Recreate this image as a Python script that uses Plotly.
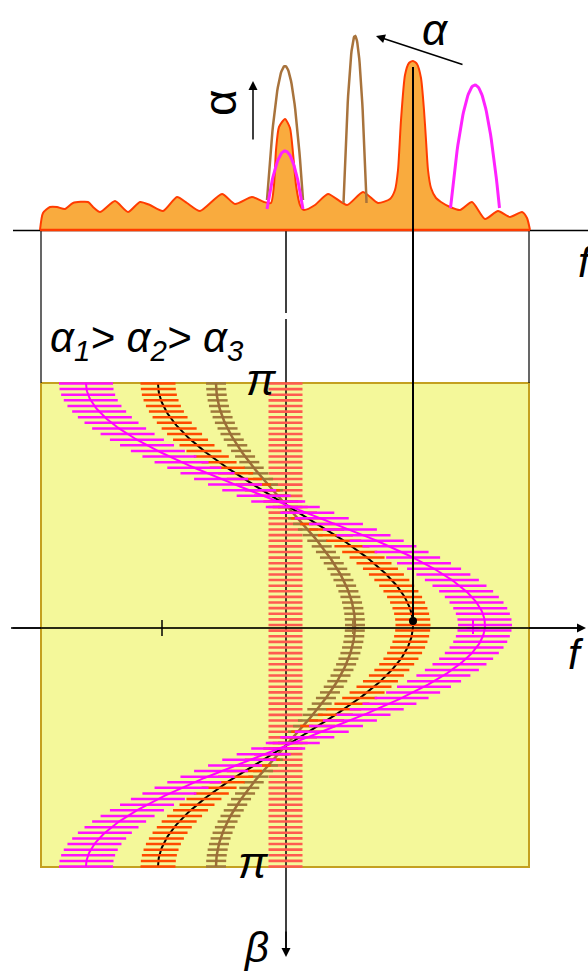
import numpy as np
import plotly.graph_objects as go

W, H = 588, 971

# ---- layout constants (drawing units = screen units) ----
BASE_Y = 230          # baseline of the spectrum strip
AXIS_Y = 628          # f axis of the beta panel
PANEL_X = [41, 529]
PANEL_Y = [383, 867]
F0 = 285.5            # common crossing frequency
BETA_MID_Y = 625      # beta = 0
BETA_HALF = 241.5     # distance from beta = 0 to beta = +-pi

# ---- spectrum (frequency, level above baseline) ----
spec_f = [40, 43, 50, 57, 65, 73, 88, 93, 100, 115, 128, 140, 150, 163, 177, 187, 200,
          222, 235, 252, 264, 271, 274, 276, 279, 285, 290, 293, 296, 300, 304,
          315, 328, 347, 363, 378, 390, 395, 398, 401, 405, 409, 413, 417, 421, 424,
          426, 428, 431, 436, 441, 450, 460, 472, 485, 498, 510, 522, 527, 530]
spec_a = [0, 17, 23, 23, 21, 27, 28, 23, 18, 29, 18, 28, 25, 19, 33, 27, 19,
          36, 26, 33, 28, 27, 45, 80, 103, 111, 102, 77, 45, 25, 20,
          25, 36, 25, 38, 27, 31, 40, 60, 110, 155, 167, 169, 166, 152, 120,
          90, 60, 42, 32, 28, 23, 20, 28, 11, 19, 13, 18, 12, 0]

# ---- single-parameter peaks drawn over the spectrum ----
peak_f = [285, 355, 285, 475]
peak_top = [164, 194, 79, 145]       # height of peak above baseline
peak_foot = [30, 27, 21, 22]         # height where the arch ends
peak_half = [18, 11.5, 18, 24.5]     # half width at the foot
peak_color = ["#A8733C", "#A8733C", "#FF22FF", "#FF22FF"]
peak_width = [2.5, 2.5, 3, 3]

# ---- f(beta) curves ----
curve_amp = [199.5, 127.5, 69.5]          # alpha1, alpha2, alpha3
curve_bar = [54, 35, 20]
curve_bar_color = ["#FF10FF", "#FF4A00", "#A07A3C"]
curve_line_color = ["#FF00FF", "#000000", "#9C6E38"]
curve_line_width = [2, 2, 2.5]
column_bar = 34
n_bars = 87

axis_ticks = [162]
cross_f = [353, 473]
cross_color = ["#A07A3C", "#FF00FF"]
dot_f = 413

fig = go.Figure()


def line(xs, ys, color="#000", width=1.5, **kw):
    fig.add_trace(go.Scatter(x=xs, y=ys, mode="lines", hoverinfo="skip",
                             line=dict(color=color, width=width), **kw))


def beta_y(beta):
    return BETA_MID_Y + beta / np.pi * BETA_HALF


# spectrum baseline axis
line([13, 588], [BASE_Y + 0.5, BASE_Y + 0.5], width=1.5)

# beta panel
fig.add_trace(go.Scatter(
    x=[PANEL_X[0], PANEL_X[1], PANEL_X[1], PANEL_X[0], PANEL_X[0]],
    y=[PANEL_Y[0], PANEL_Y[0], PANEL_Y[1], PANEL_Y[1], PANEL_Y[0]],
    mode="lines", fill="toself", fillcolor="#F4F89A",
    line=dict(color="#C4A020", width=2), hoverinfo="skip"))

# f axis: black outside the panel, seen through the tint inside it
line([11, PANEL_X[0], None, PANEL_X[1], 578], [AXIS_Y, AXIS_Y, None, AXIS_Y, AXIS_Y],
     width=1.5)
line([PANEL_X[0] + 1, PANEL_X[1] - 1], [AXIS_Y, AXIS_Y], color="#8E8E3A", width=1.5)

# connector lines between strip and panel
line([PANEL_X[0], PANEL_X[0]], [BASE_Y, PANEL_Y[0]], width=1.2)
line([PANEL_X[1], PANEL_X[1]], [BASE_Y, PANEL_Y[0]], width=1.2)
line([286, 286, None, 286, 286], [163, 313, None, 319, 950], width=1.5)

# spectrum fill
line([spec_f[0], spec_f[-1]], [BASE_Y, BASE_Y], width=0)
fig.add_trace(go.Scatter(
    x=spec_f, y=[BASE_Y - a for a in spec_a], mode="lines",
    line=dict(color="#FF3C00", width=2, shape="spline", smoothing=0.6),
    fill="tonexty", fillcolor="#F9AB3E", hoverinfo="skip"))
line([spec_f[0], spec_f[-1]], [BASE_Y, BASE_Y], color="#FF3C00", width=2.5)

# peaks
for c, top, foot, hw, col, lw in zip(peak_f, peak_top, peak_foot, peak_half,
                                      peak_color, peak_width):
    u = np.linspace(-1, 1, 61)
    xs = c + u * hw
    ys = BASE_Y - (top - (top - foot) * u ** 2)
    line(xs, ys, color=col, width=lw)

# bars of the common column
beta_b = np.linspace(-np.pi, np.pi, n_bars)
bx, by = [], []
for b in beta_b:
    yb = beta_y(b)
    bx += [F0 - column_bar / 2, F0 + column_bar / 2, None]
    by += [yb, yb, None]
line(bx, by, color="#FF5A50", width=2.6)

# f(beta) curves with their bars, drawn from alpha3 up to alpha1
beta_l = np.linspace(-np.pi, np.pi, 301)
for i in [2, 1, 0]:
    amp = curve_amp[i]
    half = curve_bar[i] / 2
    bx, by = [], []
    for b in beta_b:
        xc = F0 + amp * np.cos(b)
        yb = beta_y(b)
        bx += [xc - half, xc + half, None]
        by += [yb, yb, None]
    cx = F0 + amp * np.cos(beta_l)
    cy = beta_y(beta_l)
    if i == 1:
        line(cx, cy, color=curve_line_color[i], width=curve_line_width[i])
        line(bx, by, color=curve_bar_color[i], width=2.5)
    else:
        line(bx, by, color=curve_bar_color[i], width=2.5)
        line(cx, cy, color=curve_line_color[i], width=curve_line_width[i])

# ticks and crosses on the f axis
for t in axis_ticks:
    line([t, t], [AXIS_Y - 8, AXIS_Y + 8], width=1.5)
for t, col in zip(cross_f, cross_color):
    line([t, t, None, t - 6, t + 6], [AXIS_Y - 8, AXIS_Y + 6, None, AXIS_Y, AXIS_Y],
         color=col, width=2)

# line from the alpha2 peak down to its maximum in the panel
line([dot_f, dot_f], [BASE_Y - 163, AXIS_Y - 7], width=2)
fig.add_trace(go.Scatter(x=[dot_f], y=[AXIS_Y - 7], mode="markers", hoverinfo="skip",
                         marker=dict(color="#000", size=8)))

FONT = "Liberation Sans, Arial, sans-serif"


def label(x, y, text, size, angle=0, xref="x"):
    if xref == "paper":
        x = x / W
    fig.add_annotation(x=x, y=y, xref=xref, text=text, showarrow=False,
                       textangle=angle, font=dict(family=FONT, size=size, color="#000"),
                       xanchor="center", yanchor="middle")


def arrow(x0, y0, x1, y1):
    fig.add_annotation(x=x1, y=y1, ax=x0, ay=y0, axref="x", ayref="y",
                       xref="x", yref="y", text="", showarrow=True,
                       arrowhead=2, arrowsize=1.2, arrowwidth=1.5, arrowcolor="#000")


label(435, 29, "<i>α</i>", 44)
arrow(464, 65, 376, 36)
label(220, 103, "α", 46, angle=-90)
arrow(253, 141, 253, 81)
label(586, 262, "<i>f</i>", 42, xref="paper")
label(147, 340, "<i>α<sub>1</sub>> α<sub>2</sub>> α<sub>3</sub></i>", 42)
label(261, 379, "<i>π</i>", 44)
label(253, 862, "<i>π</i>", 44)
label(576, 654, "<i>f</i>", 42)
label(256, 947, "<i>β</i>", 42)
arrow(11, AXIS_Y, 586, AXIS_Y)
arrow(286, 930, 286, 957)

fig.update_layout(
    width=W, height=H, margin=dict(l=0, r=0, t=0, b=0),
    paper_bgcolor="white", plot_bgcolor="white", showlegend=False,
    xaxis=dict(range=[0, W], visible=False, fixedrange=True),
    yaxis=dict(range=[H, 0], visible=False, fixedrange=True),
)

fig.write_html("out.html")
